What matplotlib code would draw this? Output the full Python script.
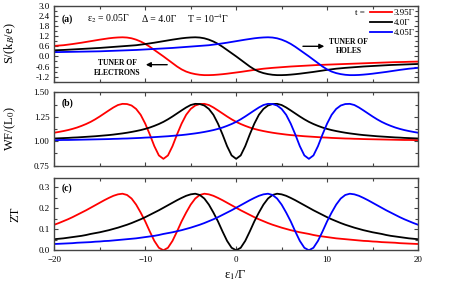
import matplotlib
matplotlib.use("Agg")
import matplotlib.pyplot as plt
from matplotlib.ticker import MultipleLocator, FormatStrFormatter

plt.rcParams['font.family'] = ['Liberation Serif', 'DejaVu Serif']
plt.rcParams['mathtext.fontset'] = 'stix'

# energy grid eps1/Gamma, -20 .. 20 in steps of 0.5
eps1 = [-20 + 0.5 * i for i in range(81)]

t_labels = ['3.95Γ', '4.0Γ', '4.05Γ']
colors = ['#ff0000', '#000000', '#0000ff']

# (a) thermopower S/(kB/e)
S_red = [0.62, 0.64, 0.66, 0.695, 0.73, 0.77, 0.81, 0.855, 0.90, 0.945,
         0.99, 1.03, 1.07, 1.10, 1.12, 1.13, 1.115, 1.07, 0.99, 0.88,
         0.74, 0.57, 0.38, 0.19, 0.0,
         -0.20, -0.40, -0.60, -0.77, -0.90, -0.99, -1.05, -1.09, -1.11, -1.11,
         -1.10, -1.08, -1.055, -1.025, -0.99, -0.955, -0.92, -0.88, -0.84, -0.80,
         -0.765, -0.73, -0.705, -0.68, -0.66, -0.64, -0.62, -0.60, -0.585, -0.57,
         -0.555, -0.54, -0.525, -0.51, -0.50, -0.49, -0.48, -0.47, -0.46, -0.45,
         -0.44, -0.43, -0.42, -0.41, -0.40, -0.39, -0.38, -0.37, -0.36, -0.35,
         -0.34, -0.335, -0.33, -0.32, -0.315, -0.31]
S_black = [0.36, 0.37, 0.38, 0.395, 0.41, 0.425, 0.44, 0.455, 0.47, 0.485,
           0.50, 0.52, 0.54, 0.56, 0.58, 0.60, 0.62, 0.64, 0.66, 0.695,
           0.73, 0.77, 0.81, 0.855, 0.90, 0.945, 0.99, 1.03, 1.07, 1.10,
           1.12, 1.13, 1.115, 1.07, 0.99, 0.88, 0.74, 0.57, 0.38, 0.19,
           0.0,
           -0.20, -0.40, -0.60, -0.77, -0.90, -0.99, -1.05, -1.09, -1.11, -1.11,
           -1.10, -1.08, -1.055, -1.025, -0.99, -0.955, -0.92, -0.88, -0.84, -0.80,
           -0.765, -0.73, -0.705, -0.68, -0.66, -0.64, -0.62, -0.60, -0.585, -0.57,
           -0.555, -0.54, -0.525, -0.51, -0.50, -0.49, -0.48, -0.47, -0.46, -0.45]
S_blue = [0.25, 0.255, 0.26, 0.265, 0.27, 0.275, 0.28, 0.285, 0.29, 0.295,
          0.30, 0.31, 0.32, 0.33, 0.34, 0.35,
          0.36, 0.37, 0.38, 0.395, 0.41, 0.425, 0.44, 0.455, 0.47, 0.485,
          0.50, 0.52, 0.54, 0.56, 0.58, 0.60, 0.62, 0.64, 0.66, 0.695,
          0.73, 0.77, 0.81, 0.855, 0.90, 0.945, 0.99, 1.03, 1.07, 1.10,
          1.12, 1.13, 1.115, 1.07, 0.99, 0.88, 0.74, 0.57, 0.38, 0.19,
          0.0,
          -0.20, -0.40, -0.60, -0.77, -0.90, -0.99, -1.05, -1.09, -1.11, -1.11,
          -1.10, -1.08, -1.055, -1.025, -0.99, -0.955, -0.92, -0.88, -0.84, -0.80,
          -0.765, -0.73, -0.705, -0.68]

# (b) Wiedemann-Franz ratio WF/L0
WF_red = [1.087, 1.095, 1.104, 1.114, 1.126, 1.140, 1.157, 1.176, 1.198, 1.224,
          1.253, 1.284, 1.315, 1.345, 1.370, 1.382, 1.380, 1.365, 1.330, 1.270,
          1.180, 1.070, 0.950, 0.855, 0.820,
          0.855, 0.950, 1.070, 1.180, 1.270, 1.330, 1.365, 1.380, 1.382, 1.370,
          1.345, 1.315, 1.284, 1.253, 1.224, 1.198, 1.176, 1.157, 1.140, 1.126,
          1.114, 1.104, 1.095, 1.087, 1.080, 1.074, 1.068, 1.063, 1.059, 1.055,
          1.051, 1.048, 1.045, 1.042, 1.039, 1.037, 1.034, 1.032, 1.030, 1.028,
          1.027, 1.025, 1.024, 1.022, 1.021, 1.020, 1.019, 1.018, 1.017, 1.016,
          1.015, 1.014, 1.013, 1.013, 1.012, 1.011]
WF_black = [1.028, 1.030, 1.032, 1.034, 1.037, 1.039, 1.042, 1.045, 1.048, 1.051,
            1.055, 1.059, 1.063, 1.068, 1.074, 1.080, 1.087, 1.095, 1.104, 1.114,
            1.126, 1.140, 1.157, 1.176, 1.198, 1.224, 1.253, 1.284, 1.315, 1.345,
            1.370, 1.382, 1.380, 1.365, 1.330, 1.270, 1.180, 1.070, 0.950, 0.855,
            0.820,
            0.855, 0.950, 1.070, 1.180, 1.270, 1.330, 1.365, 1.380, 1.382, 1.370,
            1.345, 1.315, 1.284, 1.253, 1.224, 1.198, 1.176, 1.157, 1.140, 1.126,
            1.114, 1.104, 1.095, 1.087, 1.080, 1.074, 1.068, 1.063, 1.059, 1.055,
            1.051, 1.048, 1.045, 1.042, 1.039, 1.037, 1.034, 1.032, 1.030, 1.028]
WF_blue = [1.011, 1.012, 1.013, 1.013, 1.014, 1.015,
           1.016, 1.017, 1.018, 1.019, 1.020, 1.021, 1.022, 1.024, 1.025, 1.027,
           1.028, 1.030, 1.032, 1.034, 1.037, 1.039, 1.042, 1.045, 1.048, 1.051,
           1.055, 1.059, 1.063, 1.068, 1.074, 1.080, 1.087, 1.095, 1.104, 1.114,
           1.126, 1.140, 1.157, 1.176, 1.198, 1.224, 1.253, 1.284, 1.315, 1.345,
           1.370, 1.382, 1.380, 1.365, 1.330, 1.270, 1.180, 1.070, 0.950, 0.855,
           0.820,
           0.855, 0.950, 1.070, 1.180, 1.270, 1.330, 1.365, 1.380, 1.382, 1.370,
           1.345, 1.315, 1.284, 1.253, 1.224, 1.198, 1.176, 1.157, 1.140, 1.126,
           1.114, 1.104, 1.095, 1.087]

# (c) figure of merit ZT
ZT_red = [0.122, 0.130, 0.139, 0.148, 0.158, 0.169, 0.180, 0.191, 0.203, 0.215,
          0.227, 0.239, 0.250, 0.260, 0.267, 0.270, 0.264, 0.247, 0.218, 0.180,
          0.138, 0.090, 0.045, 0.012, 0.0,
          0.012, 0.045, 0.090, 0.138, 0.180, 0.218, 0.247, 0.264, 0.270, 0.267,
          0.260, 0.250, 0.239, 0.227, 0.215, 0.203, 0.191, 0.180, 0.169, 0.158,
          0.148, 0.139, 0.130, 0.122, 0.115, 0.108, 0.102, 0.096, 0.091, 0.086,
          0.082, 0.078, 0.073, 0.069, 0.066, 0.063, 0.060, 0.057, 0.055, 0.053,
          0.051, 0.049, 0.047, 0.045, 0.044, 0.042, 0.041, 0.039, 0.038, 0.037,
          0.036, 0.034, 0.033, 0.032, 0.031, 0.030]
ZT_black = [0.053, 0.055, 0.057, 0.060, 0.063, 0.066, 0.069, 0.073, 0.078, 0.082,
            0.086, 0.091, 0.096, 0.102, 0.108, 0.115, 0.122, 0.130, 0.139, 0.148,
            0.158, 0.169, 0.180, 0.191, 0.203, 0.215, 0.227, 0.239, 0.250, 0.260,
            0.267, 0.270, 0.264, 0.247, 0.218, 0.180, 0.138, 0.090, 0.045, 0.012,
            0.0,
            0.012, 0.045, 0.090, 0.138, 0.180, 0.218, 0.247, 0.264, 0.270, 0.267,
            0.260, 0.250, 0.239, 0.227, 0.215, 0.203, 0.191, 0.180, 0.169, 0.158,
            0.148, 0.139, 0.130, 0.122, 0.115, 0.108, 0.102, 0.096, 0.091, 0.086,
            0.082, 0.078, 0.073, 0.069, 0.066, 0.063, 0.060, 0.057, 0.055, 0.053]
ZT_blue = [0.030, 0.031, 0.032, 0.033, 0.034, 0.036,
           0.037, 0.038, 0.039, 0.041, 0.042, 0.044, 0.045, 0.047, 0.049, 0.051,
           0.053, 0.055, 0.057, 0.060, 0.063, 0.066, 0.069, 0.073, 0.078, 0.082,
           0.086, 0.091, 0.096, 0.102, 0.108, 0.115, 0.122, 0.130, 0.139, 0.148,
           0.158, 0.169, 0.180, 0.191, 0.203, 0.215, 0.227, 0.239, 0.250, 0.260,
           0.267, 0.270, 0.264, 0.247, 0.218, 0.180, 0.138, 0.090, 0.045, 0.012,
           0.0,
           0.012, 0.045, 0.090, 0.138, 0.180, 0.218, 0.247, 0.264, 0.270, 0.267,
           0.260, 0.250, 0.239, 0.227, 0.215, 0.203, 0.191, 0.180, 0.169, 0.158,
           0.148, 0.139, 0.130, 0.122]

fig = plt.figure(figsize=(4.57, 2.91), dpi=100)
ax_a = fig.add_axes([0.1188, 0.7192, 0.7959, 0.2612])
ax_b = fig.add_axes([0.1188, 0.4306, 0.7959, 0.2522])
ax_c = fig.add_axes([0.1188, 0.1399, 0.7959, 0.2484])

spine_col = '#444444'
for ax in (ax_a, ax_b, ax_c):
    ax.set_xlim(-20, 20)
    ax.xaxis.set_major_locator(MultipleLocator(10))
    ax.xaxis.set_minor_locator(MultipleLocator(5))
    ax.tick_params(which='both', direction='in', top=True, right=True,
                   labelsize=6.5, color=spine_col, width=0.8)
    ax.tick_params(which='major', length=3, pad=3.5)
    ax.tick_params(which='minor', length=2)
    for sp in ax.spines.values():
        sp.set_color(spine_col)
        sp.set_linewidth(1.0)

series = [
    (ax_a, [S_red, S_black, S_blue]),
    (ax_b, [WF_red, WF_black, WF_blue]),
    (ax_c, [ZT_red, ZT_black, ZT_blue]),
]
for ax, ys in series:
    for y, c, lab in zip(ys, colors, t_labels):
        ax.plot(eps1, y, color=c, lw=1.3, label=lab)

# panel (a)
ax_a.set_ylim(-1.5, 3.0)
ax_a.yaxis.set_major_locator(MultipleLocator(0.6))
ax_a.yaxis.set_minor_locator(MultipleLocator(0.3))
ax_a.yaxis.set_major_formatter(FormatStrFormatter('%.1f'))
ax_a.set_yticks([-1.2, -0.6, 0.0, 0.6, 1.2, 1.8, 2.4, 3.0])
ax_a.tick_params(labelbottom=False)
ax_a.set_ylabel('S/(k$_B$/e)', fontsize=9)
ax_a.yaxis.set_label_coords(-0.1, 0.5)
ax_a.text(0.021, 0.825, '(a)', transform=ax_a.transAxes, fontsize=7,
          fontweight='bold', va='center')
ax_a.text(0.089, 0.825, 'ε$_2$ = 0.05Γ', transform=ax_a.transAxes,
          fontsize=7, va='center')
ax_a.text(0.240, 0.825, 'Δ = 4.0Γ', transform=ax_a.transAxes,
          fontsize=7, va='center')
ax_a.text(0.364, 0.825, 'T = 10$^{-4}$Γ', transform=ax_a.transAxes,
          fontsize=7, va='center')
leg = ax_a.legend(loc='upper right', frameon=False, fontsize=6.5,
                  handlelength=2.4, handletextpad=0.2, labelspacing=0.2,
                  borderaxespad=0.15, borderpad=0.2)
ax_a.text(0.855, 0.90, 't =', transform=ax_a.transAxes, fontsize=6.5,
          va='center', ha='right')
ax_a.text(0.174, 0.18, 'TUNER OF\nELECTRONS', transform=ax_a.transAxes,
          fontsize=5.5, fontweight='bold', ha='center', va='center',
          linespacing=1.3)
ax_a.annotate('', xy=(0.244, 0.224), xytext=(0.318, 0.224),
              xycoords='axes fraction',
              arrowprops=dict(arrowstyle='-|>', color='black', lw=1.0,
                              mutation_scale=7))
ax_a.text(0.810, 0.463, 'TUNER OF\nHOLES', transform=ax_a.transAxes,
          fontsize=5.5, fontweight='bold', ha='center', va='center',
          linespacing=1.3)
ax_a.annotate('', xy=(0.750, 0.466), xytext=(0.676, 0.466),
              xycoords='axes fraction',
              arrowprops=dict(arrowstyle='-|>', color='black', lw=1.0,
                              mutation_scale=7))

# panel (b)
ax_b.set_ylim(0.75, 1.5)
ax_b.yaxis.set_major_locator(MultipleLocator(0.25))
ax_b.yaxis.set_minor_locator(MultipleLocator(0.125))
ax_b.yaxis.set_major_formatter(FormatStrFormatter('%.2f'))
ax_b.tick_params(labelbottom=False)
ax_b.set_ylabel('WF/(L$_0$)', fontsize=9)
ax_b.yaxis.set_label_coords(-0.1, 0.5)
ax_b.text(0.021, 0.854, '(b)', transform=ax_b.transAxes, fontsize=7,
          fontweight='bold', va='center')

# panel (c)
ax_c.set_ylim(0.0, 0.345)
ax_c.yaxis.set_major_locator(MultipleLocator(0.1))
ax_c.yaxis.set_minor_locator(MultipleLocator(0.05))
ax_c.yaxis.set_major_formatter(FormatStrFormatter('%.1f'))
ax_c.tick_params(axis='x', which='major', pad=4)
ax_c.set_ylabel('ZT', fontsize=9)
ax_c.yaxis.set_label_coords(-0.09, 0.5)
ax_c.text(0.021, 0.862, '(c)', transform=ax_c.transAxes, fontsize=7,
          fontweight='bold', va='center')
fig.text(0.516, 0.055, 'ε$_1$/Γ', fontsize=9, ha='center', va='center')

fig.savefig('out.png', dpi=100)
